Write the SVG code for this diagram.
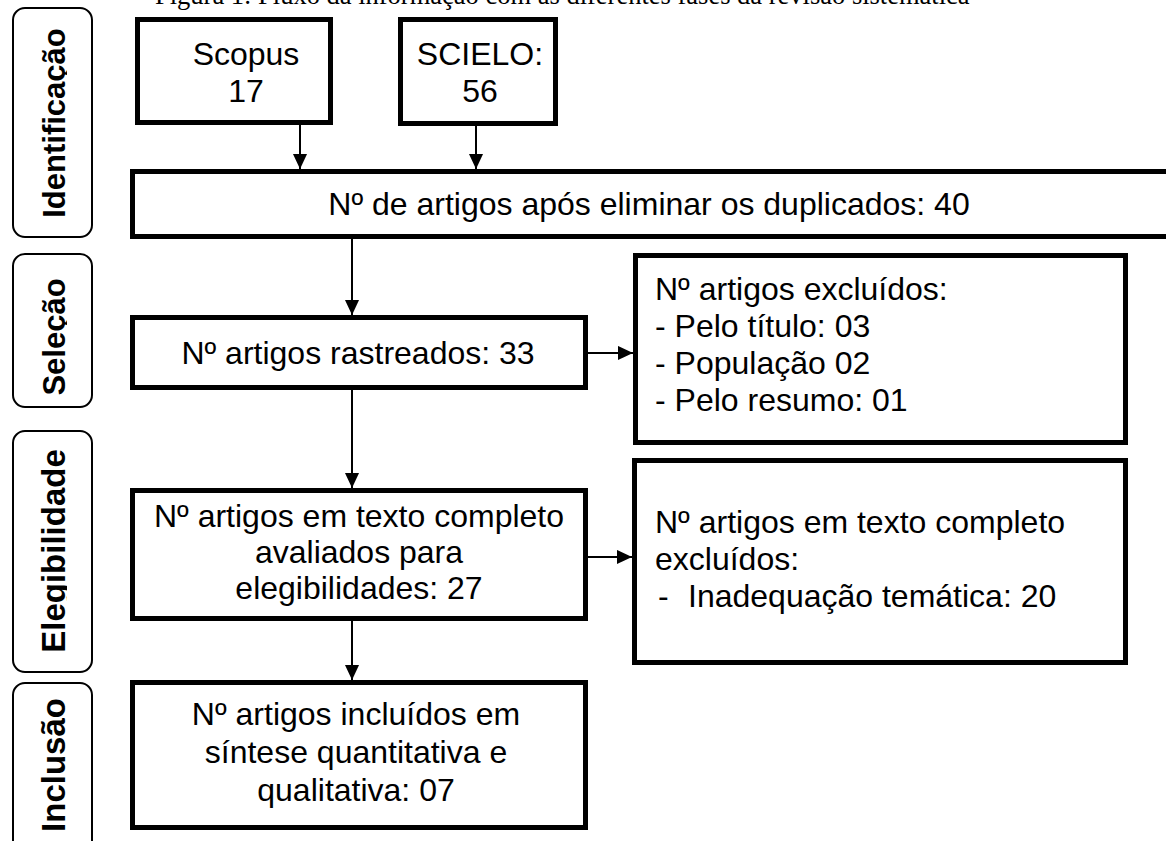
<svg xmlns="http://www.w3.org/2000/svg" width="1166" height="841" viewBox="0 0 1166 841">
<style>
.box{fill:#fff;stroke:#000;stroke-width:5}
.side{fill:#fff;stroke:#000;stroke-width:2}
.t{font-family:"Liberation Sans",Arial,sans-serif;font-size:32px;fill:#000}
.c{text-anchor:middle}
.st{font-family:"Liberation Sans",Arial,sans-serif;font-size:31px;font-weight:bold;fill:#000;text-anchor:middle}
.st2{font-size:33px}
.ttl{font-family:"Liberation Serif","Times New Roman",serif;font-size:26.5px;fill:#000}
.conn{stroke:#000;stroke-width:2;fill:none;marker-end:url(#ah)}
</style>
<defs>
<marker id="ah" viewBox="0 0 10 10" refX="10" refY="5" markerWidth="15" markerHeight="15" markerUnits="userSpaceOnUse" orient="auto">
<path d="M0,0.3 L10,5 L0,9.7 z" fill="#000"/>
</marker>
<clipPath id="desc" clipPathUnits="userSpaceOnUse"><rect x="0" y="0" width="67" height="841"/></clipPath>
</defs>
<rect width="1166" height="841" fill="#fff"/>
<text class="ttl" x="155" y="4">Figura 1: Fluxo da informação com as diferentes fases da revisão sistemática</text>

<g id="lbl-identificacao">
<rect class="side" x="13" y="8" width="79" height="229" rx="12"/>
<g clip-path="url(#desc)"><text class="st" transform="translate(65,123) rotate(-90)">Identificação</text></g>
</g>
<g id="lbl-selecao">
<rect class="side" x="13" y="254" width="79" height="153" rx="12"/>
<g clip-path="url(#desc)"><text class="st" transform="translate(65,337) rotate(-90)">Seleção</text></g>
</g>
<g id="lbl-elegibilidade">
<rect class="side" x="13" y="431" width="79" height="241" rx="12"/>
<g clip-path="url(#desc)"><text class="st st2" transform="translate(65,551) rotate(-90)">Elegibilidade</text></g>
</g>
<g id="lbl-inclusao">
<rect class="side" x="13" y="683" width="79" height="180" rx="12"/>
<g clip-path="url(#desc)"><text class="st st2" transform="translate(65,765) rotate(-90)">Inclusão</text></g>
</g>

<g id="connectors">
<line class="conn" x1="300" y1="125" x2="300" y2="169"/>
<line class="conn" x1="476" y1="126" x2="476" y2="169"/>
<line class="conn" x1="352" y1="239" x2="352" y2="315"/>
<line class="conn" x1="352" y1="390" x2="352" y2="488"/>
<line class="conn" x1="352" y1="621" x2="352" y2="680"/>
<line class="conn" x1="588" y1="353" x2="633" y2="353"/>
<line class="conn" x1="588" y1="557" x2="632" y2="557"/>
</g>

<g id="scopus">
<rect class="box" x="137.5" y="19.5" width="193" height="103"/>
<text class="t c" x="246" y="65">Scopus</text>
<text class="t c" x="246" y="102">17</text>
</g>
<g id="scielo">
<rect class="box" x="400.5" y="19.5" width="155" height="104"/>
<text class="t c" x="480" y="65">SCIELO:</text>
<text class="t c" x="480" y="102">56</text>
</g>
<g id="duplicados">
<rect class="box" x="132.5" y="171.5" width="1050" height="65"/>
<text class="t c" x="649" y="215">Nº de artigos após eliminar os duplicados: 40</text>
</g>
<g id="rastreados">
<rect class="box" x="132.5" y="317.5" width="453" height="70"/>
<text class="t c" x="358" y="364">Nº artigos rastreados: 33</text>
</g>
<g id="excluidos1">
<rect class="box" x="635.5" y="255.5" width="490" height="187"/>
<text class="t" x="655" y="300">Nº artigos excluídos:</text>
<text class="t" x="655" y="337">- Pelo título: 03</text>
<text class="t" x="655" y="374">- População 02</text>
<text class="t" x="655" y="411">- Pelo resumo: 01</text>
</g>
<g id="elegibilidade">
<rect class="box" x="132.5" y="490.5" width="453" height="128"/>
<text class="t c" x="359" y="527">Nº artigos em texto completo</text>
<text class="t c" x="359" y="563">avaliados para</text>
<text class="t c" x="359" y="599">elegibilidades: 27</text>
</g>
<g id="excluidos2">
<rect class="box" x="634.5" y="460.5" width="491" height="202"/>
<text class="t" x="655" y="533">Nº artigos em texto completo</text>
<text class="t" x="655" y="570">excluídos:</text>
<text class="t" y="607"><tspan x="658">-</tspan><tspan x="688">Inadequação temática: 20</tspan></text>
</g>
<g id="inclusao">
<rect class="box" x="132.5" y="682.5" width="453" height="145"/>
<text class="t c" x="356" y="725">Nº artigos incluídos em</text>
<text class="t c" x="356" y="763">síntese quantitativa e</text>
<text class="t c" x="356" y="801">qualitativa: 07</text>
</g>
</svg>
